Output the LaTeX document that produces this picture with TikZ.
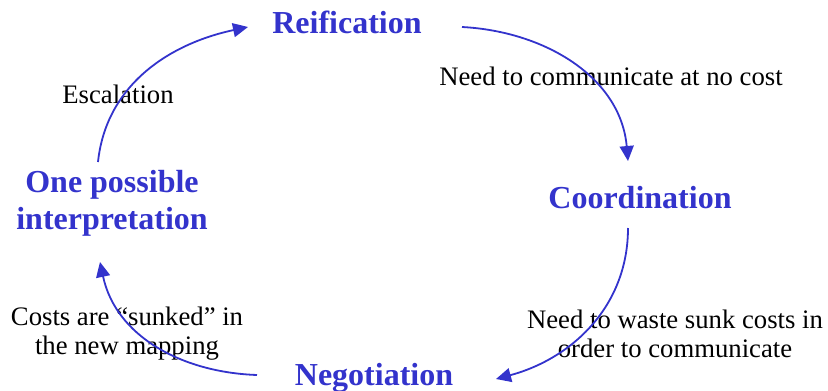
\documentclass[tikz,border=0pt]{standalone}
\usepackage{fontspec}
\setmainfont{Liberation Serif}
\usetikzlibrary{arrows.meta}
\definecolor{cyc}{HTML}{3333CC}
\begin{document}
\begin{tikzpicture}[x=1pt,y=-1pt,
  stage/.style={text=cyc,font=\fontsize{32}{37}\selectfont\bfseries,inner sep=0pt,align=center},
  lab/.style={text=black,font=\fontsize{26.7}{29}\selectfont,inner sep=0pt,align=center},
  flow/.style={draw=cyc,line width=1.8pt,-{Triangle[length=15pt,width=14pt]}}]
\useasboundingbox (0,0) rectangle (828,391);
\node[stage,anchor=base] (reif) at (347,33) {Reification};
\node[stage,anchor=base] (coord) at (640,208) {Coordination};
\node[stage,anchor=base] (nego) at (374,385) {Negotiation};
\node[stage,anchor=base] (interp) at (112,229) {One possible\\interpretation};
\node[lab,anchor=base] (esc) at (118,103) {Escalation};
\node[lab,anchor=base] (need) at (611,85) {Need to communicate at no cost};
\node[lab,anchor=base] (waste) at (675,357) {Need to waste sunk costs in\\order to communicate};
\node[lab,anchor=base] (sunk) at (127,354) {Costs are “sunked” in\\the new mapping};
\coordinate (a1s) at (98,162); \coordinate (a1e) at (248,27);
\coordinate (a2s) at (462,27); \coordinate (a2e) at (628,161);
\coordinate (a3s) at (628,228); \coordinate (a3e) at (496,379);
\coordinate (a4s) at (257,375); \coordinate (a4e) at (100,262);
\draw[flow] (a1s) to[out=84,in=192] (a1e);
\draw[flow] (a2s) to[out=-3,in=95] (a2e);
\draw[flow] (a3s) to[out=-90,in=15] (a3e);
\draw[flow] (a4s) to[out=178,in=-78] (a4e);
\end{tikzpicture}
\end{document}
